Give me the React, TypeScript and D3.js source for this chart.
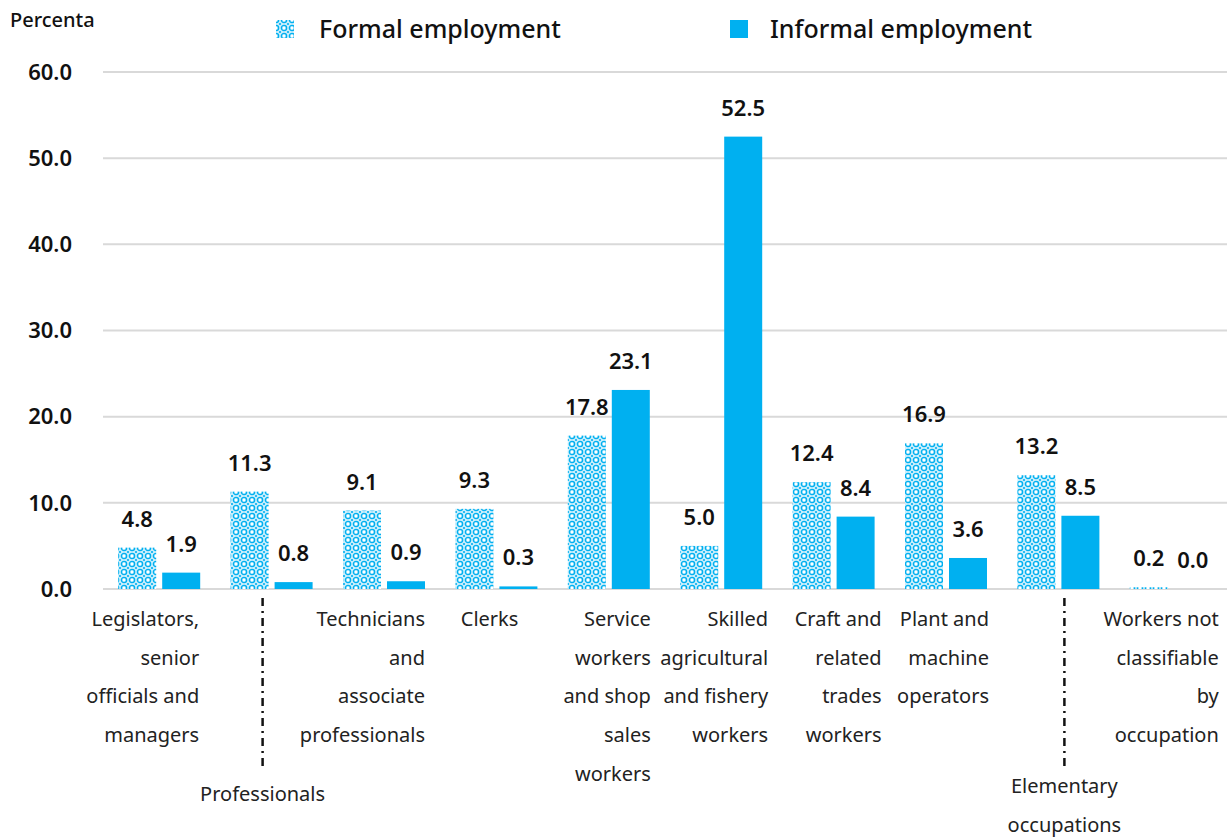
import React from "react";
import * as d3 from "d3";

const categories = [
  "Legislators",
  "Professionals",
  "Technicians",
  "Clerks",
  "Service",
  "Skilled",
  "Craft",
  "Plant",
  "Elementary",
  "NotClassifiable",
];
const categoryLines: string[][] = [
  ["Legislators,", "senior", "officials and", "managers"],
  ["Professionals"],
  ["Technicians", "and", "associate", "professionals"],
  ["Clerks"],
  ["Service", "workers", "and shop", "sales", "workers"],
  ["Skilled", "agricultural", "and fishery", "workers"],
  ["Craft and", "related", "trades", "workers"],
  ["Plant and", "machine", "operators"],
  ["Elementary", "occupations"],
  ["Workers not", "classifiable", "by", "occupation"],
];
const formalValues = [4.8, 11.3, 9.1, 9.3, 17.8, 5.0, 12.4, 16.9, 13.2, 0.2];
const informalValues = [1.9, 0.8, 0.9, 0.3, 23.1, 52.5, 8.4, 3.6, 8.5, 0.0];
const yTicks = [0, 10, 20, 30, 40, 50, 60];
const seriesNames = ["Formal employment", "Informal employment"];
const leaderCategories = ["Professionals", "Elementary"];

const W = 1227;
const H = 839;
const BLUE = "#00B0F0";
const FONT = "'Noto Sans', sans-serif";

export default function App() {
  const x = d3.scaleBand<string>().domain(categories).range([103, 1227]).padding(0);
  const y = d3.scaleLinear().domain([0, 60]).range([589, 72]);
  const bw = x.bandwidth();
  const barW = 38;
  const gap = 6;

  const labelRightOffset: Record<string, number> = {
    Legislators: 40,
    Technicians: 41,
    Clerks: 22,
    Service: 42,
    Skilled: 47,
    Craft: 48,
    Plant: 43,
    NotClassifiable: 48,
  };
  const leaderOffset: Record<string, number> = { Professionals: -9, Elementary: 6 };

  return (
    <svg width={W} height={H} style={{ position: "absolute", left: 0, top: 0, background: "#fff" }} fontFamily={FONT}>
      <defs>
        <pattern id="formalPat" width="8" height="8" patternUnits="userSpaceOnUse">
          <rect width="8" height="8" fill="#ffffff" />
          <rect x="0" y="0" width="8" height="8" fill={BLUE} opacity="0.2" />
          <circle cx="4" cy="4" r="2.6" fill="none" stroke={BLUE} strokeWidth="1.4" />
          <circle cx="0" cy="0" r="1.1" fill={BLUE} />
          <circle cx="8" cy="0" r="1.1" fill={BLUE} />
          <circle cx="0" cy="8" r="1.1" fill={BLUE} />
          <circle cx="8" cy="8" r="1.1" fill={BLUE} />
          <rect x="3" y="3" width="2" height="2" fill="#fff" />
        </pattern>
      </defs>

      {yTicks.map((t) => (
        <line key={t} x1={103} x2={1227} y1={y(t)} y2={y(t)} stroke="#d9d9d9" strokeWidth={2} />
      ))}
      {yTicks.map((t) => (
        <text key={"t" + t} x={72} y={y(t)} dy="0.35em" textAnchor="end" fontSize={22} fontWeight={600} fill="#111">
          {t.toFixed(1)}
        </text>
      ))}
      <text x={10} y={20} dy="0.35em" fontSize={20} fontWeight={500} fill="#111">Percenta</text>

      <rect x={276} y={20} width={18} height={18} fill="url(#formalPat)" />
      <text x={319} y={29} dy="0.35em" fontSize={25} fontWeight={500} fill="#111">{seriesNames[0]}</text>
      <rect x={730} y={20} width={18} height={18} fill={BLUE} />
      <text x={770} y={29} dy="0.35em" fontSize={25} fontWeight={500} fill="#111">{seriesNames[1]}</text>

      {categories.map((c, i) => {
        const cx = (x(c) as number) + bw / 2;
        const fx = cx - gap / 2 - barW;
        const ix = cx + gap / 2;
        const fv = formalValues[i];
        const iv = informalValues[i];
        return (
          <g key={c}>
            <rect x={fx} y={y(fv)} width={barW} height={y(0) - y(fv)} fill="url(#formalPat)" />
            <rect x={ix} y={y(iv)} width={barW} height={y(0) - y(iv)} fill={BLUE} />
            <text x={fx + barW / 2} y={y(fv) - 21} textAnchor="middle" fontSize={22} fontWeight={600} fill="#111">
              {fv.toFixed(1)}
            </text>
            <text x={ix + barW / 2} y={y(iv) - 21} textAnchor="middle" fontSize={22} fontWeight={600} fill="#111">
              {iv.toFixed(1)}
            </text>
          </g>
        );
      })}

      {categories.map((c, i) => {
        const cx = (x(c) as number) + bw / 2;
        const lines = categoryLines[i];
        if (leaderCategories.includes(c)) {
          const lx = cx + (leaderOffset[c] ?? 0);
          const top = 598;
          const bottom = 768;
          const textStart = c === "Professionals" ? 794 : 786;
          return (
            <g key={"l" + c}>
              <line x1={lx} x2={lx} y1={top} y2={bottom} stroke="#111" strokeWidth={2.5} strokeDasharray="8 5 2 5" />
              {lines.map((ln, k) => (
                <text key={k} x={lx} y={textStart + k * 38.7} dy="0.35em" textAnchor="middle" fontSize={20} fill="#222">
                  {ln}
                </text>
              ))}
            </g>
          );
        }
        const rx = cx + (labelRightOffset[c] ?? 44);
        return (
          <g key={"l" + c}>
            {lines.map((ln, k) => (
              <text key={k} x={rx} y={619 + k * 38.7} dy="0.35em" textAnchor="end" fontSize={20} fill="#222">
                {ln}
              </text>
            ))}
          </g>
        );
      })}
    </svg>
  );
}
